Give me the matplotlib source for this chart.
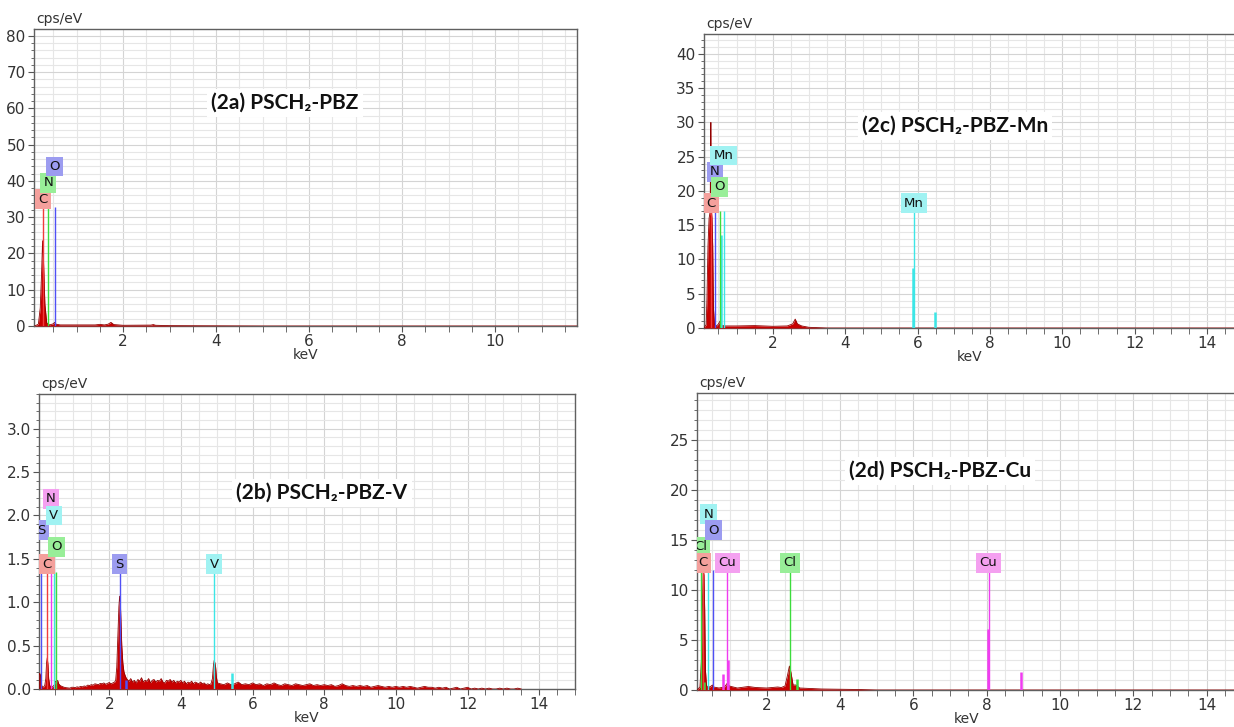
import numpy as np
import matplotlib.pyplot as plt
from matplotlib.ticker import MultipleLocator, FormatStrFormatter

W, H = 1234, 727

# ---------------- (2a) PSCH2-PBZ ----------------
a_kev = [0.10, 0.18, 0.22, 0.25, 0.27, 0.29, 0.32, 0.36, 0.42, 0.50, 0.53, 0.56, 0.65,
         1.00, 1.40, 1.50, 1.60, 1.68, 1.74, 1.80, 2.00, 2.60, 2.65, 2.70, 3.00, 4.00, 5.00, 11.8]
a_cps = [0.0, 0.5, 5.0, 15.0, 23.5, 18.0, 6.0, 0.8, 0.3, 0.6, 1.0, 0.5, 0.3,
         0.3, 0.3, 0.45, 0.3, 0.5, 1.0, 0.4, 0.2, 0.25, 0.4, 0.2, 0.1, 0.05, 0.0, 0.0]
a_el = ['C', 'N', 'O']
a_el_kev = [0.28, 0.39, 0.53]
a_el_lab_y = [35.0, 39.5, 44.0]
a_line_top = 32.8

# ---------------- (2b) PSCH2-PBZ-V ----------------
b_low_kev = [0.05, 0.06, 0.08, 0.10, 0.12, 0.16, 0.20, 0.23, 0.25, 0.27, 0.29, 0.31, 0.34,
             0.38, 0.43, 0.47, 0.50, 0.53, 0.56, 0.59, 0.63, 0.68, 0.74, 0.80, 0.90, 0.95]
b_low_cps = [0.0, 0.18, 0.16, 0.08, 0.03, 0.02, 0.04, 0.12, 0.30, 0.36, 0.28, 0.12, 0.04,
             0.02, 0.03, 0.05, 0.09, 0.08, 0.10, 0.06, 0.04, 0.03, 0.02, 0.015, 0.01, 0.02]
# background from 1.00 keV, 0.05 keV channels
b_bg1_cps = [0.02, 0.015, 0.025, 0.02, 0.03, 0.025, 0.035, 0.03, 0.045, 0.04, 0.05, 0.045,
             0.06, 0.055, 0.05, 0.065, 0.06, 0.07, 0.055, 0.065, 0.075, 0.06, 0.07, 0.08]
b_s_kev = [2.18, 2.21, 2.24, 2.27, 2.29, 2.31, 2.33, 2.35, 2.38, 2.41, 2.44, 2.47, 2.50]
b_s_cps = [0.10, 0.25, 0.60, 0.95, 1.07, 1.00, 0.75, 0.50, 0.30, 0.20, 0.16, 0.13, 0.11]
# background from 2.55 keV, 0.05 keV channels
b_bg2_cps = [0.09, 0.12, 0.08, 0.10, 0.07, 0.11, 0.09, 0.13, 0.08, 0.10, 0.09, 0.12, 0.07,
             0.10, 0.11, 0.08, 0.10, 0.09, 0.12, 0.08, 0.07, 0.10, 0.09, 0.11, 0.08, 0.10,
             0.07, 0.09, 0.08, 0.10, 0.07, 0.09, 0.06, 0.08, 0.07, 0.09, 0.06, 0.08, 0.07,
             0.06, 0.08, 0.06, 0.07, 0.05, 0.06, 0.05]
b_v_kev = [4.84, 4.88, 4.91, 4.93, 4.95, 4.97, 4.99, 5.02]
b_v_cps = [0.06, 0.12, 0.28, 0.33, 0.30, 0.25, 0.14, 0.07]
# background from 5.1 keV, 0.1 keV channels
b_bg3_cps = [0.06, 0.05, 0.07, 0.05, 0.06, 0.08, 0.05, 0.06, 0.05, 0.07,
             0.05, 0.06, 0.04, 0.06, 0.05, 0.07, 0.05, 0.04, 0.06, 0.05,
             0.04, 0.06, 0.05, 0.04, 0.05, 0.06, 0.04, 0.05, 0.04, 0.05,
             0.04, 0.05, 0.03, 0.04, 0.06, 0.04, 0.03, 0.04, 0.03, 0.04,
             0.03, 0.04, 0.02, 0.03, 0.04, 0.03, 0.02, 0.03, 0.02, 0.03,
             0.02, 0.03, 0.02, 0.03, 0.02, 0.01, 0.02, 0.03, 0.02, 0.02,
             0.01, 0.02, 0.01, 0.02, 0.0, 0.01, 0.02, 0.0, 0.01, 0.02,
             0.0, 0.01, 0.0, 0.01, 0.0, 0.01, 0.0, 0.0, 0.01, 0.0,
             0.01, 0.0, 0.0, 0.01, 0.0]
b_el = ['S', 'C', 'N', 'V', 'O', 'S', 'V']
b_el_kev = [0.10, 0.27, 0.37, 0.45, 0.52, 2.29, 4.93]
b_el_lab_y = [1.83, 1.44, 2.19, 2.00, 1.64, 1.44, 1.44]
b_line_top = 1.35
b_bar_el = ['S', 'V']
b_bar_kev = [2.47, 5.43]
b_bar_cps = [0.10, 0.19]

# ---------------- (2c) PSCH2-PBZ-Mn ----------------
c_kev = [0.10, 0.16, 0.18, 0.21, 0.24, 0.27, 0.285, 0.29, 0.30, 0.32, 0.34, 0.36, 0.39, 0.45,
         0.50, 0.54, 0.58, 0.70, 1.00, 1.50, 2.00, 2.40, 2.55, 2.62, 2.68, 2.80, 3.00, 3.50, 14.8]
c_cps = [0.0, 0.5, 4.0, 12.0, 16.0, 17.0, 29.0, 30.0, 17.5, 16.0, 12.0, 3.0, 0.5, 0.3,
         0.6, 1.0, 0.4, 0.3, 0.3, 0.35, 0.25, 0.3, 0.6, 1.3, 0.6, 0.3, 0.1, 0.0, 0.0]
c_el = ['C', 'N', 'O', 'Mn', 'Mn']
c_el_kev = [0.29, 0.40, 0.54, 0.64, 5.90]
c_el_lab_y = [18.2, 22.8, 20.6, 25.2, 18.2]
c_line_top = 17.0
c_bar_el = ['Mn', 'Mn', 'Mn']
c_bar_kev = [0.57, 5.88, 6.49]
c_bar_cps = [13.6, 8.7, 2.4]

# ---------------- (2d) PSCH2-PBZ-Cu ----------------
d_kev = [0.10, 0.18, 0.22, 0.25, 0.27, 0.29, 0.31, 0.33, 0.36, 0.45, 0.52, 0.55, 0.70, 0.85,
         0.93, 0.98, 1.20, 1.50, 1.70, 2.00, 2.30, 2.40, 2.50, 2.57, 2.62, 2.66, 2.72, 2.80,
         2.90, 3.50, 4.50, 5.00, 14.8]
d_cps = [0.0, 0.3, 3.0, 9.0, 12.0, 11.5, 8.0, 2.0, 0.4, 0.3, 0.5, 0.3, 0.2, 0.3,
         0.7, 0.4, 0.2, 0.35, 0.25, 0.2, 0.3, 0.25, 0.4, 1.5, 2.4, 1.8, 0.5, 0.5,
         0.2, 0.1, 0.05, 0.0, 0.0]
d_el = ['Cl', 'C', 'N', 'O', 'Cu', 'Cl', 'Cu']
d_el_kev = [0.20, 0.27, 0.41, 0.54, 0.93, 2.63, 8.05]
d_el_lab_y = [14.3, 12.7, 17.6, 16.0, 12.7, 12.7, 12.7]
d_line_top = 12.0
d_bar_el = ['Cl', 'Cu', 'Cu', 'Cl', 'Cu', 'Cu']
d_bar_kev = [0.28, 0.81, 0.95, 2.82, 8.04, 8.93]
d_bar_cps = [0.8, 1.6, 3.0, 1.1, 6.1, 1.8]

# element colours (line, label box) per panel
RED = ('#f03c3c', '#f4a09c')
GREEN = ('#3cdc3c', '#98ee98')
BLUE = ('#5050f5', '#9c9cf0')
CYAN = ('#3ce6e6', '#a0f2f2')
MAGENTA = ('#f03cf0', '#f4a0f0')
a_colors = {'C': RED, 'N': GREEN, 'O': BLUE}
b_colors = {'C': RED, 'N': MAGENTA, 'O': GREEN, 'S': BLUE, 'V': CYAN}
c_colors = {'C': RED, 'N': BLUE, 'O': GREEN, 'Mn': CYAN}
d_colors = {'C': RED, 'N': CYAN, 'O': BLUE, 'Cl': GREEN, 'Cu': MAGENTA}

plt.rcParams['font.family'] = ['DejaVu Sans']
fig = plt.figure(figsize=(W / 100, H / 100), dpi=100)


def make_axes(left, right, top, bottom):
    return fig.add_axes([left / W, 1 - bottom / H, (right - left) / W, (bottom - top) / H])


def panel(ax, kev, cps, xlim, ylim, ymaj, ymin, title, tpos,
          el, el_kev, el_lab_y, line_top, colors, bar_el=(), bar_kev=(), bar_cps=(), yfmt=None):
    ax.set_xlim(*xlim)
    ax.set_ylim(*ylim)
    ax.xaxis.set_major_locator(MultipleLocator(2))
    ax.xaxis.set_minor_locator(MultipleLocator(0.5))
    ax.yaxis.set_major_locator(MultipleLocator(ymaj))
    ax.yaxis.set_minor_locator(MultipleLocator(ymin))
    if yfmt:
        ax.yaxis.set_major_formatter(FormatStrFormatter(yfmt))
    ax.set_axisbelow(True)
    ax.grid(which='minor', color='#e6e6e6', lw=0.8)
    ax.grid(which='major', color='#d4d4d4', lw=0.8)
    ax.tick_params(which='both', direction='out', labelsize=11, colors='#555555',
                   labelcolor='#333333', pad=2)
    ax.tick_params(which='major', length=4)
    ax.tick_params(axis='y', which='minor', length=2.5)
    ax.tick_params(axis='x', which='minor', length=4)
    for s in ax.spines.values():
        s.set_color('#606060')
        s.set_linewidth(1)

    # spectrum
    ax.fill_between(kev, cps, 0, color='#c80000', lw=0, zorder=3)
    ax.plot(kev, cps, color='#900000', lw=0.6, zorder=3)

    # intensity bars
    for e, x, h in zip(bar_el, bar_kev, bar_cps):
        ax.vlines(x, 0, h, color=colors[e][0], lw=1.8, zorder=4)

    # element lines + labels
    for e, x, ly in zip(el, el_kev, el_lab_y):
        ax.vlines(x, 0, line_top, color=colors[e][0], lw=1.0, zorder=4)
        ax.text(x, ly, e, ha='center', va='center', fontsize=9.5, color='#111111', zorder=6,
                clip_on=True,
                bbox=dict(boxstyle='square,pad=0.25', fc=colors[e][1], ec='none'))

    ax.text(tpos[0], tpos[1], title, transform=ax.transAxes, ha='center', va='center',
            fontsize=15, fontweight='bold', family='Lato', color='#111111', zorder=7,
            bbox=dict(boxstyle='square,pad=0.2', fc='white', ec='none'))
    ax.text(0.005, 1.01, 'cps/eV', transform=ax.transAxes, ha='left', va='bottom',
            fontsize=10, color='#333333')
    ax.set_xlabel('keV', fontsize=10, color='#333333', labelpad=-1)


b_kev = (b_low_kev + list(1.00 + 0.05 * np.arange(len(b_bg1_cps))) + b_s_kev
         + list(2.55 + 0.05 * np.arange(len(b_bg2_cps))) + b_v_kev
         + list(5.10 + 0.1 * np.arange(len(b_bg3_cps))))
b_cps = b_low_cps + b_bg1_cps + b_s_cps + b_bg2_cps + b_v_cps + b_bg3_cps

ax_a = make_axes(34, 577, 29, 326)
panel(ax_a, a_kev, a_cps, (0.086, 11.76), (0, 81.9), 10, 2, '(2a) PSCH₂-PBZ', (0.462, 0.751),
      a_el, a_el_kev, a_el_lab_y, a_line_top, a_colors)

ax_b = make_axes(39, 575, 394, 689)
panel(ax_b, b_kev, b_cps, (0.04, 15.0), (0, 3.4), 0.5, 0.1, '(2b) PSCH₂-PBZ-V', (0.528, 0.664),
      b_el, b_el_kev, b_el_lab_y, b_line_top, b_colors, b_bar_el, b_bar_kev, b_bar_cps,
      yfmt='%.1f')

ax_c = make_axes(704, 1236, 34, 328)
panel(ax_c, c_kev, c_cps, (0.1, 14.8), (0, 42.9), 5, 1, '(2c) PSCH₂-PBZ-Mn', (0.472, 0.687),
      c_el, c_el_kev, c_el_lab_y, c_line_top, c_colors, c_bar_el, c_bar_kev, c_bar_cps)

ax_d = make_axes(697, 1236, 393, 690)
panel(ax_d, d_kev, d_cps, (0.1, 14.8), (0, 29.7), 5, 1, '(2d) PSCH₂-PBZ-Cu', (0.451, 0.737),
      d_el, d_el_kev, d_el_lab_y, d_line_top, d_colors, d_bar_el, d_bar_kev, d_bar_cps)

fig.savefig('out.png', dpi=100)
